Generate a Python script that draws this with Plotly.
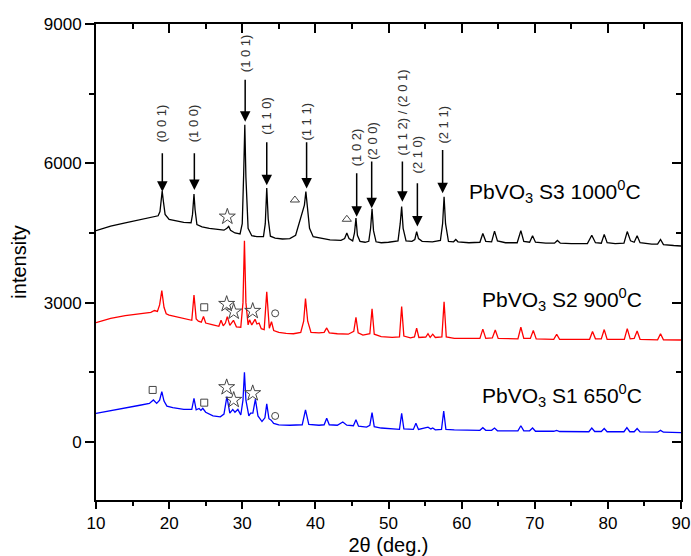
import plotly.graph_objects as go

# ---------------- data ----------------
s3_x = [10, 12, 14, 16, 17.5, 18.5, 18.75, 18.9, 19.05, 19.2, 19.45, 20, 21, 22,
        23.0, 23.2, 23.4, 23.55, 23.8, 24.5, 25.5, 26.5, 27.5, 27.9, 28.15, 28.4,
        29, 29.7, 30.0, 30.2, 30.35, 30.5, 30.8, 31.3, 32, 32.9, 33.15, 33.35,
        33.55, 33.85, 34.5, 35.5, 36.5, 37.3, 37.8, 38.2, 38.5, 38.7, 38.9, 39.2,
        39.7, 40.5, 42, 43.5, 44.0, 44.3, 44.6, 45.1, 45.35, 45.55, 45.75, 46.1,
        46.8, 47.3, 47.55, 47.75, 47.95, 48.3, 49, 50, 51.3, 51.6, 51.8, 52.0,
        52.4, 53.2, 53.6, 53.85, 54.1, 54.6, 56, 57.1, 57.4, 57.6, 57.8, 58.2,
        58.9, 59.2, 59.5, 61, 62.5, 62.9, 63.3, 64.1, 64.5, 64.9, 66, 67.6, 68.1,
        68.5, 69.3, 69.7, 70.1, 71.5, 72.7, 73.1, 73.5, 75, 77.2, 77.8, 78.3,
        79.1, 79.5, 79.9, 81, 82.2, 82.65, 83.1, 83.6, 84.0, 84.4, 86, 86.8,
        87.2, 87.6, 89, 90]
s3_y = [4550, 4650, 4720, 4780, 4830, 4870, 4960, 5250, 5400, 5200, 4900, 4790, 4760, 4730,
        4720, 4900, 5340, 5000, 4680, 4630, 4600, 4580, 4560, 4600, 4640, 4560,
        4500, 4480, 4700, 5800, 6830, 5700, 4600, 4440, 4420, 4420, 4700, 5470,
        4800, 4430, 4390, 4370, 4380, 4450, 4700, 4900, 5100, 5390, 5000, 4600,
        4420, 4390, 4350, 4340, 4380, 4500, 4380, 4330, 4500, 4820, 4450, 4320,
        4300, 4320, 4600, 5020, 4550, 4310, 4290, 4300, 4330, 4700, 5070, 4600,
        4330, 4320, 4360, 4530, 4380, 4320, 4310, 4340, 4700, 5280, 4700, 4320,
        4310, 4360, 4310, 4290, 4300, 4490, 4320, 4310, 4540, 4330, 4290, 4290, 4550,
        4320, 4300, 4440, 4300, 4280, 4280, 4340, 4280, 4270, 4270, 4450, 4290,
        4280, 4470, 4290, 4270, 4280, 4530, 4330, 4300, 4440, 4290, 4260, 4260,
        4360, 4250, 4230, 4220]

s2_x = [10, 12, 14, 16, 17.5, 18.0, 18.4, 18.7, 19.0, 19.3, 19.6, 20, 21, 22.5,
        23.1, 23.4, 23.7, 24.0, 24.4, 24.7, 25.0, 26, 26.8, 27.1, 27.4, 27.7,
        27.95, 28.3, 28.8, 29.2, 29.8, 30.1, 30.3, 30.5, 30.8, 31.0, 31.3, 31.75,
        32.0, 32.3, 32.6, 33.0, 33.35, 33.7, 34.0, 34.3, 35, 36, 37, 38.0, 38.4,
        38.65, 38.95, 39.4, 40.5, 41.2, 41.55, 41.9, 43, 44.5, 45.25, 45.55, 45.85,
        46.5, 47.45, 47.75, 48.05, 49, 50.5, 51.5, 51.8, 52.1, 53, 53.55, 53.85,
        54.15, 55.1, 55.4, 55.7, 56.05, 56.4, 57.3, 57.6, 57.9, 59, 62.5, 62.9,
        63.3, 64.2, 64.6, 65.0, 67.7, 68.1, 68.5, 69.4, 69.8, 70.2, 72.6, 73.0,
        73.4, 77.5, 77.9, 78.3, 79.1, 79.5, 79.9, 82.25, 82.65, 83.05, 83.6, 84.0,
        84.4, 86.8, 87.2, 87.6, 90]
s2_y = [2570, 2660, 2720, 2760, 2790, 2830, 2810, 2950, 3260, 2900, 2760, 2730, 2690, 2630,
        2620, 3165, 2650, 2600, 2580, 2700, 2560, 2520, 2490, 2620, 2500, 2560,
        2700, 2510, 2620, 2480, 2470, 3000, 4330, 3000, 2520, 2630, 2520, 2640,
        2540, 2560, 2440, 2420, 3235, 2450, 2590, 2400, 2360, 2340, 2330, 2360, 2600,
        3090, 2600, 2360, 2350, 2360, 2455, 2350, 2330, 2320, 2380, 2685, 2350,
        2300, 2330, 2865, 2320, 2270, 2250, 2260, 2915, 2280, 2240, 2260, 2450,
        2250, 2260, 2330, 2250, 2320, 2250, 2260, 3020, 2260, 2230, 2230, 2430,
        2230, 2240, 2410, 2230, 2220, 2470, 2230, 2230, 2400, 2220, 2210, 2320,
        2210, 2210, 2380, 2220, 2220, 2420, 2210, 2210, 2440, 2220, 2230, 2390,
        2210, 2200, 2330, 2200, 2195]

s1_x = [10, 12, 14, 16, 17.3, 17.85, 18.3, 18.7, 19.0, 19.3, 19.7, 20.5, 22, 23.1,
        23.4, 23.7, 24.1, 24.35, 24.6, 25.0, 26, 27, 27.5, 27.9, 28.3, 28.7, 29.0,
        29.4, 29.8, 30.1, 30.3, 30.5, 30.9, 31.15, 31.45, 31.8, 32.15, 32.7, 33.1,
        33.35, 33.65, 33.95, 34.3, 35, 36.5, 38.2, 38.65, 39.1, 40.5, 41.2, 41.55,
        41.9, 43, 43.75, 44.3, 45.2, 45.55, 45.9, 47, 47.45, 47.75, 48.05, 49,
        51.5, 51.8, 52.1, 53.4, 53.75, 54.1, 55.4, 55.8, 56.05, 56.4, 57.25, 57.55,
        57.85, 59, 62.5, 62.9, 63.3, 64.1, 64.5, 64.9, 67.7, 68.1, 68.5, 69.3,
        69.7, 70.1, 72.6, 73.0, 73.4, 77.4, 77.8, 78.2, 79.1, 79.5, 79.9, 82.2,
        82.6, 83.0, 83.6, 84.0, 84.4, 86.8, 87.2, 87.6, 90]
s1_y = [617, 680, 740, 790, 830, 904, 830, 900, 1083, 880, 770, 740, 700, 700,
        940, 690, 720, 680, 725, 640, 560, 540, 600, 975, 620, 700, 640,
        700, 580, 900, 1500, 900, 560, 620, 620, 920, 560, 440, 520,
        818, 500, 470, 400, 366, 360, 370, 690, 380, 360, 370, 510,
        370, 360, 430, 360, 350, 480, 340, 320, 360, 630, 330, 300,
        270, 617, 280, 270, 402, 270, 320, 280, 300, 260, 270, 667,
        270, 258, 250, 308, 250, 250, 300, 240, 240, 350, 240, 240,
        300, 230, 230, 250, 225, 220, 300, 225, 225, 290, 220, 220,
        310, 220, 220, 290, 215, 210, 250, 210, 200]

assert len(s3_x) == len(s3_y), (len(s3_x), len(s3_y))
assert len(s2_x) == len(s2_y), (len(s2_x), len(s2_y))
assert len(s1_x) == len(s1_y), (len(s1_x), len(s1_y))

# Miller-index arrows on S3: label, x, tail y, tip y, label centre y
hkl_labels = ["(0 0 1)", "(1 0 0)", "(1 0 1)", "(1 1 0)", "(1 1 1)",
              "(1 0 2)", "(2 0 0)", "(1 1 2) / (2 0 1)", "(2 1 0)", "(2 1 1)"]
hkl_x = [19.07, 23.45, 30.4, 33.35, 38.8, 45.65, 47.7, 51.9, 53.95, 57.4]
hkl_tail = [6250, 6250, 7830, 6485, 6485, 5820, 6070, 6070, 5605, 6320]
hkl_tip = [5390, 5425, 6895, 5530, 5460, 4850, 5030, 5175, 4640, 5355]
hkl_label_y = [6870, 6870, 8375, 7020, 6890, 6340, 6480, 7105, 6200, 6825]

# impurity symbols
star_x = [27.96, 27.87, 28.83, 31.43, 27.87, 28.83, 31.43]
star_y = [4850, 2970, 2805, 2820, 1177, 904, 1048]
square_x = [24.8, 17.75, 24.8]
square_y = [2900, 1120, 846]
triangle_x = [37.2, 44.3]
triangle_y = [5210, 4795]
circle_x = [34.5, 34.5]
circle_y = [2770, 560]

sample_labels = ["PbVO<sub>3</sub> S3 1000<sup>0</sup>C",
                 "PbVO<sub>3</sub> S2 900<sup>0</sup>C",
                 "PbVO<sub>3</sub> S1 650<sup>0</sup>C"]
sample_label_x = [72.8, 73.7, 73.7]
sample_label_y = [5390, 3060, 1010]

x_range = [10, 90]
y_range = [-1250, 9000]

FONT = "Liberation Sans, Arial, sans-serif"

fig = go.Figure()
fig.add_trace(go.Scatter(x=s3_x, y=s3_y, mode="lines",
                         line=dict(color="#000000", width=1.3), showlegend=False))
fig.add_trace(go.Scatter(x=s2_x, y=s2_y, mode="lines",
                         line=dict(color="#ff0000", width=1.3), showlegend=False))
fig.add_trace(go.Scatter(x=s1_x, y=s1_y, mode="lines",
                         line=dict(color="#0000ff", width=1.3), showlegend=False))

sym_col = "#444444"
fig.add_trace(go.Scatter(x=star_x, y=star_y, mode="markers", xaxis="x2", yaxis="y2",
                         marker=dict(symbol="star-open", size=12, color=sym_col,
                                     line=dict(width=1, color=sym_col)), showlegend=False))
fig.add_trace(go.Scatter(x=square_x, y=square_y, mode="markers", xaxis="x2", yaxis="y2",
                         marker=dict(symbol="square-open", size=7, color=sym_col,
                                     line=dict(width=1, color=sym_col)), showlegend=False))
fig.add_trace(go.Scatter(x=triangle_x, y=triangle_y, mode="markers", xaxis="x2", yaxis="y2",
                         marker=dict(symbol="triangle-up-open", size=8, color=sym_col,
                                     line=dict(width=1, color=sym_col)), showlegend=False))
fig.add_trace(go.Scatter(x=circle_x, y=circle_y, mode="markers", xaxis="x2", yaxis="y2",
                         marker=dict(symbol="circle-open", size=7, color=sym_col,
                                     line=dict(width=1, color=sym_col)), showlegend=False))

annotations = []
for lab, x, yt, yp, yl in zip(hkl_labels, hkl_x, hkl_tail, hkl_tip, hkl_label_y):
    annotations.append(dict(x=x, y=yp, ax=x, ay=yt, xref="x", yref="y", axref="x", ayref="y",
                            text="", showarrow=True, arrowhead=2, arrowsize=1.4,
                            arrowwidth=1.5, arrowcolor="#000000", standoff=0))
    annotations.append(dict(x=x, y=yl, xref="x", yref="y", text=lab, showarrow=False,
                            textangle=-90, font=dict(family=FONT, size=13, color="#333333"),
                            xanchor="center", yanchor="middle"))
for lab, x, y in zip(sample_labels, sample_label_x, sample_label_y):
    annotations.append(dict(x=x, y=y, xref="x", yref="y", text=lab, showarrow=False,
                            font=dict(family=FONT, size=21, color="#000000"),
                            xanchor="center", yanchor="middle"))

fig.update_layout(
    width=691, height=556,
    margin=dict(l=96, r=10, t=24, b=56),
    paper_bgcolor="white", plot_bgcolor="white",
    font=dict(family=FONT, color="#000000"),
    annotations=annotations,
    xaxis=dict(range=x_range, tickmode="linear", tick0=10, dtick=10,
               ticks="outside", ticklen=7, tickwidth=1.5, tickcolor="black",
               minor=dict(ticks="outside", ticklen=4, tickwidth=1.5, dtick=5, tick0=10,
                          tickcolor="black"),
               showline=True, linecolor="black", linewidth=2, showgrid=False, zeroline=False,
               tickfont=dict(size=17, family=FONT, color="black"),
               title=dict(text="2θ (deg.)", font=dict(size=20, family=FONT, color="black"),
                          standoff=12),
               automargin=False),
    yaxis=dict(range=y_range, tickmode="linear", tick0=0, dtick=3000,
               ticks="outside", ticklen=9, tickwidth=1.5, tickcolor="black",
               minor=dict(ticks="outside", ticklen=5, tickwidth=1.5, dtick=1500, tick0=0,
                          tickcolor="black"),
               showline=True, linecolor="black", linewidth=2, showgrid=False, zeroline=False,
               tickfont=dict(size=17, family=FONT, color="black"),
               title=dict(text="intensity", font=dict(size=20, family=FONT, color="black"),
                          standoff=12),
               automargin=False),
    xaxis2=dict(range=x_range, overlaying="x", side="top", anchor="y2",
                tickmode="linear", tick0=10, dtick=10,
                ticks="inside", ticklen=9, tickwidth=1.5, tickcolor="black",
                minor=dict(ticks="inside", ticklen=5, tickwidth=1.5, dtick=5, tick0=10,
                           tickcolor="black"),
                showticklabels=False, showline=True, linecolor="black", linewidth=2,
                showgrid=False, zeroline=False, automargin=False),
    yaxis2=dict(range=y_range, overlaying="y", side="right", anchor="x2",
                tickmode="linear", tick0=0, dtick=3000,
                ticks="inside", ticklen=9, tickwidth=1.5, tickcolor="black",
                minor=dict(ticks="inside", ticklen=5, tickwidth=1.5, dtick=1500, tick0=0,
                           tickcolor="black"),
                showticklabels=False, showline=True, linecolor="black", linewidth=2,
                showgrid=False, zeroline=False, automargin=False),
)

fig.write_html("out.html",
               config={"displayModeBar": False},
               post_script="document.body.style.margin='0';document.body.style.padding='0';")
